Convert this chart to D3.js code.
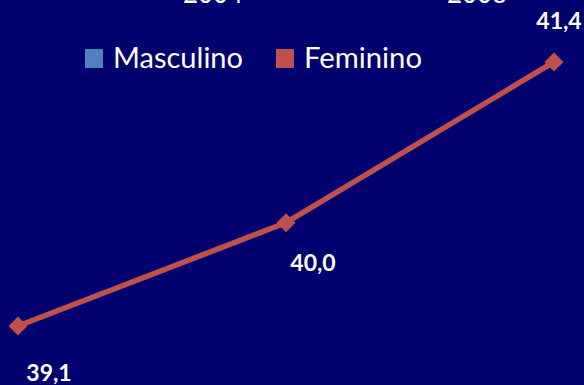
<!DOCTYPE html>
<html>
<head>
<meta charset="utf-8">
<script src="https://cdn.jsdelivr.net/npm/d3@7"></script>
<style>
  html, body { margin: 0; padding: 0; background: #00006E; }
  svg { display: block; }
</style>
</head>
<body>
<svg id="chart" width="584" height="385"></svg>
<script>
// Series data
const categories = ["2000", "2004", "2008"];
const feminino = [39.1, 40.0, 41.4];
const valueLabels = ["39,1", "40,0", "41,4"];
const legendNames = ["Masculino", "Feminino"];
const legendColors = ["#4F81BD", "#C0504D"];
const headerLabels = ["2004", "2008"];

const W = 584, H = 385;
const svg = d3.select("#chart");

svg.append("rect").attr("width", W).attr("height", H).attr("fill", "#00006E");

const font = "Lato, 'Open Sans', 'DejaVu Sans', sans-serif";

// Scales
const x = d3.scalePoint().domain(categories).range([18, 554]).padding(0);
const y = d3.scaleLinear().domain([39, 41.5]).range([337.5, 50.5]);

// Header labels, running off the top edge
const headerX = d3.scalePoint().domain(headerLabels).range([213, 477]);
svg.selectAll("text.header").data(headerLabels).join("text")
  .attr("class", "header")
  .attr("x", d => headerX(d))
  .attr("y", 3)
  .attr("text-anchor", "middle")
  .attr("fill", "#FFFFFF")
  .attr("font-family", font)
  .attr("font-size", 29)
  .attr("textLength", 60)
  .attr("lengthAdjust", "spacingAndGlyphs")
  .text(d => d);

// Legend
const legendX = [85, 276];
const legendTextW = [130, 118];
const leg = svg.selectAll("g.legend").data(legendNames).join("g")
  .attr("class", "legend")
  .attr("transform", (d, i) => `translate(${legendX[i]},49)`);
leg.append("rect")
  .attr("width", 18).attr("height", 19)
  .attr("fill", (d, i) => legendColors[i]);
leg.append("text")
  .attr("x", 28).attr("y", 19)
  .attr("fill", "#FFFFFF")
  .attr("font-family", font)
  .attr("font-size", 28)
  .attr("textLength", (d, i) => legendTextW[i])
  .attr("lengthAdjust", "spacingAndGlyphs")
  .text(d => d);

// Line
const pts = categories.map((c, i) => ({ c, v: feminino[i], label: valueLabels[i] }));
const line = d3.line().x(d => x(d.c)).y(d => y(d.v));
svg.append("path")
  .datum(pts)
  .attr("d", line)
  .attr("fill", "none")
  .attr("stroke", legendColors[1])
  .attr("stroke-width", 5.5)
  .attr("stroke-linejoin", "round");

// Diamond markers
svg.selectAll("path.marker").data(pts).join("path")
  .attr("class", "marker")
  .attr("d", d3.symbol().type(d3.symbolDiamond2).size(230))
  .attr("transform", d => `translate(${x(d.c)},${y(d.v)})`)
  .attr("fill", legendColors[1]);

// Value labels: below-right for the first points, above the last one
const labelOffset = [[31, 55], [27, 48], [5, -33]];
svg.selectAll("text.value").data(pts).join("text")
  .attr("class", "value")
  .attr("x", (d, i) => x(d.c) + labelOffset[i][0])
  .attr("y", (d, i) => y(d.v) + labelOffset[i][1])
  .attr("text-anchor", "middle")
  .attr("fill", "#FFFFFF")
  .attr("font-family", font)
  .attr("font-weight", "bold")
  .attr("font-size", 23)
  .text(d => d.label);
</script>
</body>
</html>
